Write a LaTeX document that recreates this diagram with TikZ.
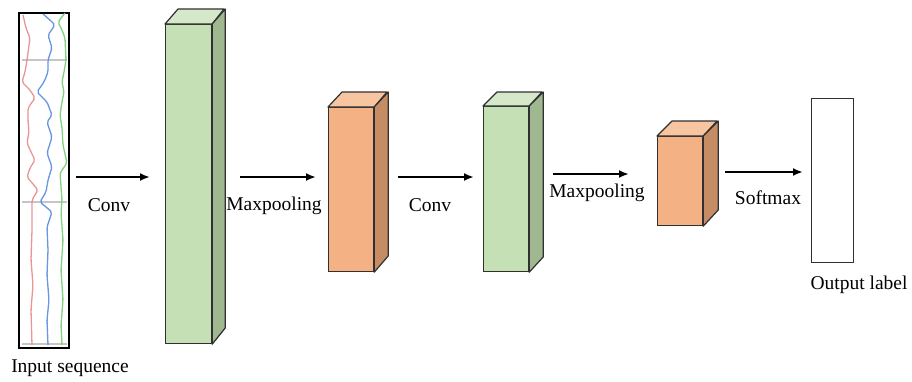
\documentclass[tikz,border=0pt]{standalone}
\usepackage{fontspec}
\setmainfont{Liberation Serif}
\usetikzlibrary{arrows.meta}
\definecolor{gfront}{HTML}{C5E0B4}
\definecolor{gtop}{HTML}{D5E9CA}
\definecolor{gside}{HTML}{A0B890}
\definecolor{ofront}{HTML}{F4B183}
\definecolor{otop}{HTML}{F7C5A0}
\definecolor{oside}{HTML}{C68D65}
\definecolor{edge}{HTML}{303030}
\definecolor{wred}{HTML}{E88A8A}
\definecolor{wblue}{HTML}{5A8AE0}
\definecolor{wgreen}{HTML}{74CC74}
\begin{document}
\begin{tikzpicture}[x=1pt,y=-1pt,
  lbl/.style={font=\fontsize{19.5}{22}\selectfont, inner sep=0pt},
  flow/.style={line width=2pt, -{Latex[length=10pt,width=8pt]}},
  front/.style={draw=edge, line width=1.2pt, minimum width=#1, inner sep=0pt, anchor=north west},
  face/.style={draw=edge, line width=1.2pt, line join=round},
  wave/.style={line width=1.3pt, line join=round, rounded corners=2pt, opacity=0.9}
]
\useasboundingbox[fill=white] (0,0) rectangle (912,381);

% input sequence
\node[draw=black, line width=1.8pt, minimum width=50pt, minimum height=335pt, inner sep=0pt, anchor=north west] (inp) at (18,12) {};
\draw[gray!45, line width=1.2pt] (22,60) -- (67,60) (22,202) -- (67,202) (22,344) -- (67,344);
\draw[wave, wred] (23,15) -- (26,28) -- (30,38) -- (27,60) -- (25,72) -- (22,82) -- (30,90) -- (35,98) -- (28,108) -- (28,120) -- (29,132) -- (27,143) -- (31,152) -- (35,160) -- (30,168) -- (27,177) -- (33,184) -- (38,190) -- (32,200) -- (32,230) -- (31,260) -- (33,285) -- (31,310) -- (32,345);
\draw[wave, wblue] (43,14) -- (50,20) -- (55,25) -- (48,35) -- (52,48) -- (48,60) -- (48,72) -- (44,82) -- (37,92) -- (47,102) -- (52,115) -- (47,122) -- (52,137) -- (47,153) -- (52,167) -- (48,180) -- (46,192) -- (40,202) -- (52,212) -- (47,227) -- (48,250) -- (47,275) -- (49,300) -- (47,320) -- (48,345);
\draw[wave, wgreen] (65,13) -- (58,22) -- (62,30) -- (65,38) -- (66,60) -- (64,72) -- (62,82) -- (64,92) -- (62,102) -- (60,115) -- (62,128) -- (63,145) -- (67,163) -- (60,173) -- (62,200) -- (61,213) -- (63,240) -- (61,270) -- (63,300) -- (61,325) -- (62,345);
\node[lbl] (inlab) at (70,368) {Input sequence};

% cube 1 (green)
\node[front=46pt, minimum height=319pt, fill=gfront] (c1) at (165,24) {};
\draw[face, fill=gtop] (c1.north west) -- ++(13,-15) -- ++(46,0) -- (c1.north east) -- cycle;
\draw[face, fill=gside] (c1.north east) -- ++(13,-15) -- ++(0,319) -- (c1.south east) -- cycle;

% cube 2 (orange)
\node[front=45pt, minimum height=164pt, fill=ofront] (c2) at (328,107) {};
\draw[face, fill=otop] (c2.north west) -- ++(14,-15) -- ++(45,0) -- (c2.north east) -- cycle;
\draw[face, fill=oside] (c2.north east) -- ++(14,-15) -- ++(0,164) -- (c2.south east) -- cycle;

% cube 3 (green)
\node[front=45pt, minimum height=165pt, fill=gfront] (c3) at (483,106) {};
\draw[face, fill=gtop] (c3.north west) -- ++(14,-14) -- ++(45,0) -- (c3.north east) -- cycle;
\draw[face, fill=gside] (c3.north east) -- ++(14,-14) -- ++(0,165) -- (c3.south east) -- cycle;

% cube 4 (orange)
\node[front=45pt, minimum height=89pt, fill=ofront] (c4) at (657,136) {};
\draw[face, fill=otop] (c4.north west) -- ++(15,-15) -- ++(45,0) -- (c4.north east) -- cycle;
\draw[face, fill=oside] (c4.north east) -- ++(15,-15) -- ++(0,89) -- (c4.south east) -- cycle;

% output
\node[front=42pt, minimum height=164pt, draw=edge, fill=white] (out) at (811,98) {};
\node[lbl] (outlab) at (859,285) {Output label};

% arrows
\coordinate (a1s) at (76,177); \coordinate (a1e) at (150,177);
\coordinate (a2s) at (240,177); \coordinate (a2e) at (316,177);
\coordinate (a3s) at (398,177); \coordinate (a3e) at (474,177);
\coordinate (a4s) at (553,174); \coordinate (a4e) at (629,174);
\coordinate (a5s) at (725,172); \coordinate (a5e) at (803,172);
\draw[flow] (a1s) -- (a1e);
\draw[flow] (a2s) -- (a2e);
\draw[flow] (a3s) -- (a3e);
\draw[flow] (a4s) -- (a4e);
\draw[flow] (a5s) -- (a5e);
\node[lbl] (l1) at (109,205) {Conv};
\node[lbl] (l2) at (274,206) {Maxpooling};
\node[lbl] (l3) at (430,205) {Conv};
\node[lbl] (l4) at (597,193) {Maxpooling};
\node[lbl] (l5) at (768,198) {Softmax};
\end{tikzpicture}
\end{document}
